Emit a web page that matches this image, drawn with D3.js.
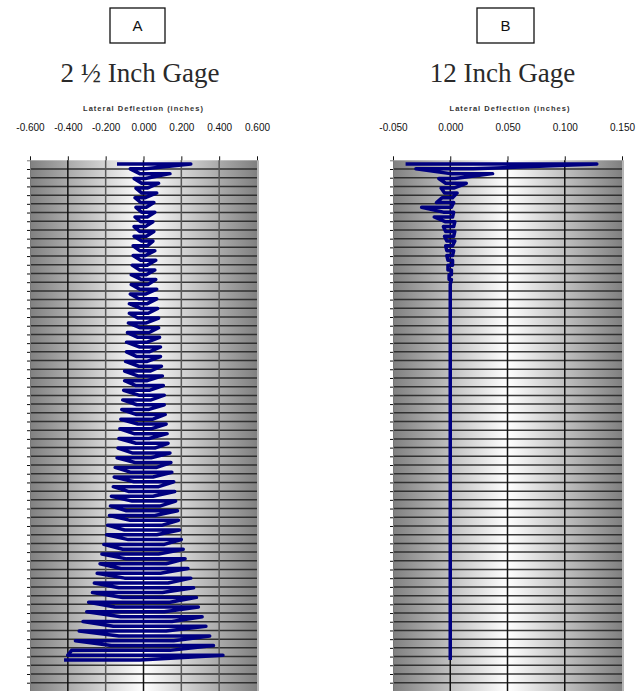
<!DOCTYPE html>
<html>
<head>
<meta charset="utf-8">
<script src="https://cdn.jsdelivr.net/npm/d3@7"></script>
<style>
  html, body { margin: 0; padding: 0; background: #fff; }
  svg { display: block; }
  .tick text { font-family: "Liberation Sans", Arial, sans-serif; }
</style>
</head>
<body>
<svg id="chart" width="642" height="691"></svg>
<script>
// ---------- data ----------
const panelLetters = ["A", "B"];
const panelTitles = ["2 \u00BD Inch Gage", "12 Inch Gage"];
const axisTitle = "Lateral Deflection (inches)";

const aTicks = [-0.6, -0.4, -0.2, 0, 0.2, 0.4, 0.6];
const bTicks = [-0.05, 0, 0.05, 0.1, 0.15];

// horizontal grid rows (depth rows)
const rowLines = d3.range(1, 61);

// Gage A: each sweep of the trace (top to bottom) – left and right extreme deflection
const aLeft = [
  -0.14, -0.07, -0.02, -0.05, -0.01, -0.04, -0.01, -0.045, -0.015, -0.04,
  -0.01, -0.045, -0.015, -0.05, -0.02, -0.05, -0.01, -0.055, -0.02, -0.055,
  -0.015, -0.06, -0.02, -0.065, -0.01, -0.065, -0.02, -0.07, -0.025, -0.075,
  -0.015, -0.075, -0.03, -0.08, -0.02, -0.085, -0.03, -0.09, -0.02, -0.09,
  -0.035, -0.095, -0.025, -0.10, -0.03, -0.10, -0.04, -0.105, -0.025, -0.11,
  -0.035, -0.115, -0.04, -0.12, -0.03, -0.125, -0.05, -0.13, -0.04, -0.135,
  -0.06, -0.14, -0.045, -0.15, -0.07, -0.155, -0.05, -0.16, -0.08, -0.17,
  -0.06, -0.175, -0.09, -0.18, -0.07, -0.19, -0.10, -0.195, -0.08, -0.21,
  -0.11, -0.22, -0.09, -0.23, -0.12, -0.245, -0.10, -0.26, -0.13, -0.27,
  -0.11, -0.29, -0.15, -0.30, -0.12, -0.32, -0.16, -0.34, -0.13, -0.36,
  -0.17, -0.38, -0.40, -0.42
];
const aRight = [
  0.25, 0.01, 0.14, 0.01, 0.08, 0.02, 0.07, 0.01, 0.055, 0.015,
  0.06, 0.02, 0.05, 0.01, 0.055, 0.015, 0.05, 0.02, 0.06, 0.01,
  0.065, 0.02, 0.06, 0.015, 0.065, 0.025, 0.07, 0.01, 0.07, 0.02,
  0.075, 0.025, 0.08, 0.015, 0.08, 0.03, 0.085, 0.02, 0.09, 0.03,
  0.09, 0.02, 0.095, 0.035, 0.10, 0.02, 0.105, 0.03, 0.11, 0.04,
  0.11, 0.025, 0.115, 0.05, 0.12, 0.04, 0.125, 0.03, 0.13, 0.06,
  0.14, 0.04, 0.145, 0.07, 0.15, 0.05, 0.16, 0.08, 0.165, 0.05,
  0.17, 0.09, 0.18, 0.06, 0.185, 0.10, 0.19, 0.07, 0.20, 0.11,
  0.21, 0.08, 0.22, 0.12, 0.235, 0.09, 0.25, 0.13, 0.265, 0.10,
  0.28, 0.14, 0.29, 0.11, 0.31, 0.15, 0.33, 0.12, 0.35, 0.16,
  0.37, 0.14, 0.42, -0.02
];
const aSweep = d3.range(aLeft.length); // sweep number 0..103

// Gage B: sweep numbers and extreme deflections
const bSweep = [
  0, 1, 2, 3, 4, 5, 6, 7, 8, 9,
  10, 11, 12, 13, 14, 15, 16, 17, 18, 19,
  20, 21, 22, 23, 24, 25, 103
];
const bLeft = [
  -0.039, -0.030, 0.000, -0.010, -0.004, -0.008, -0.005, -0.007, -0.012, -0.025,
  -0.006, -0.014, -0.004, -0.006, -0.004, -0.005, -0.003, -0.004, -0.003, -0.003,
  -0.002, -0.002, -0.002, -0.001, -0.001, 0.000, 0.000
];
const bRight = [
  0.128, 0.020, 0.037, 0.004, 0.014, 0.003, 0.006, 0.002, 0.003, 0.001,
  0.003, 0.002, 0.004, 0.003, 0.004, 0.003, 0.004, 0.002, 0.003, 0.002,
  0.002, 0.002, 0.001, 0.001, 0.001, 0.000, 0.000
];

// ---------- layout ----------
const svg = d3.select("#chart");
const plotTop = 160.3, plotBottom = 691.4;

const fmt = v => d3.format(".3f")(v).replace("\u2212", "-");

const panels = [
  {
    letter: panelLetters[0], title: panelTitles[0], ticks: aTicks,
    left: 30, right: 257, domain: [-0.6, 0.6],
    boxX: 110, boxW: 55, titleX: 140, labelX: 143.5,
    darkGrid: [-0.4, 0],
    sweep: aSweep, lo: aLeft, hi: aRight
  },
  {
    letter: panelLetters[1], title: panelTitles[1], ticks: bTicks,
    left: 393, right: 622, domain: [-0.05, 0.15],
    boxX: 477, boxW: 57, titleX: 502.5, labelX: 510,
    darkGrid: [0, 0.05, 0.1],
    sweep: bSweep, lo: bLeft, hi: bRight
  }
];

const yRow = d3.scaleLinear().domain([0, 61]).range([plotTop, plotBottom]);
const ySweep = d3.scaleLinear().domain([0, 103]).range([164, 660]);

const defs = svg.append("defs");

panels.forEach((p, pi) => {
  const x = d3.scaleLinear().domain(p.domain).range([p.left, p.right]);
  const g = svg.append("g");

  // letter box
  g.append("rect")
    .attr("x", p.boxX).attr("y", 8).attr("width", p.boxW).attr("height", 35)
    .attr("fill", "#fff").attr("stroke", "#111").attr("stroke-width", 1.3);
  g.append("text")
    .attr("x", p.boxX + p.boxW / 2).attr("y", 31)
    .attr("text-anchor", "middle")
    .style("font-family", "Liberation Sans, Arial, sans-serif")
    .style("font-size", "15px").attr("fill", "#111")
    .text(p.letter);

  // panel title
  g.append("text")
    .attr("x", p.titleX).attr("y", 82)
    .attr("text-anchor", "middle")
    .style("font-family", "Liberation Serif, 'Times New Roman', serif")
    .style("font-size", "27px").attr("fill", "#2a2a2a")
    .text(p.title);

  // axis title
  g.append("text")
    .attr("x", p.labelX).attr("y", 111)
    .attr("text-anchor", "middle")
    .style("font-family", "Liberation Sans, Arial, sans-serif")
    .style("font-size", "7.5px").style("font-weight", "bold")
    .style("letter-spacing", "1px")
    .attr("fill", "#333")
    .text(axisTitle);

  // gradient background
  const gid = "grad" + pi;
  const grad = defs.append("linearGradient").attr("id", gid)
    .attr("x1", "0%").attr("x2", "100%").attr("y1", "0%").attr("y2", "0%");
  grad.append("stop").attr("offset", "0%").attr("stop-color", "#808080");
  grad.append("stop").attr("offset", "50%").attr("stop-color", "#ffffff");
  grad.append("stop").attr("offset", "100%").attr("stop-color", "#808080");

  g.append("rect")
    .attr("x", p.left).attr("y", plotTop)
    .attr("width", p.right - p.left).attr("height", plotBottom - plotTop)
    .attr("fill", `url(#${gid})`);

  // horizontal grid lines
  g.append("g").selectAll("line").data(rowLines).join("line")
    .attr("x1", p.left).attr("x2", p.right)
    .attr("y1", d => yRow(d)).attr("y2", d => yRow(d))
    .attr("stroke", "#262626").attr("stroke-width", 1.5).attr("opacity", 0.9);

  // vertical grid lines
  const inner = p.ticks.filter(t => t > p.domain[0] + 1e-9 && t < p.domain[1] - 1e-9);
  g.append("g").selectAll("line").data(inner).join("line")
    .attr("x1", d => x(d)).attr("x2", d => x(d))
    .attr("y1", plotTop).attr("y2", plotBottom)
    .attr("stroke", d => p.darkGrid.some(v => Math.abs(v - d) < 1e-9) ? "#111" : "#5a5a5a")
    .attr("stroke-width", 1.5);

  // right border
  g.append("line")
    .attr("x1", p.right + 1).attr("x2", p.right + 1)
    .attr("y1", plotTop).attr("y2", plotBottom)
    .attr("stroke", "#b5b5b5").attr("stroke-width", 2);

  // top axis
  const xAxis = d3.axisTop(x).tickValues(p.ticks).tickFormat(fmt)
    .tickSize(4).tickPadding(25);
  const ax = g.append("g").attr("transform", `translate(0,${plotTop})`).call(xAxis);
  ax.select(".domain").remove();
  ax.selectAll(".tick line").attr("stroke", "#111");
  ax.selectAll(".tick text").style("font-size", "10px").attr("fill", "#111");

  // left axis ticks
  const yAxis = d3.axisLeft(yRow).tickValues(rowLines).tickFormat("").tickSize(3);
  const ay = g.append("g").attr("transform", `translate(${p.left},0)`).call(yAxis);
  ay.select(".domain").attr("stroke", "#777");
  ay.selectAll(".tick line").attr("stroke", "#111");

  // trace: serpentine sweeps, alternating direction
  const pts = [];
  p.sweep.forEach((s, i) => {
    const y = ySweep(s);
    const a = [x(p.lo[i]), y], b = [x(p.hi[i]), y];
    if (i % 2 === 0) { pts.push(a, b); } else { pts.push(b, a); }
  });
  g.append("path")
    .attr("d", d3.line()(pts))
    .attr("fill", "none")
    .attr("stroke", "#000080")
    .attr("stroke-width", 3.5)
    .attr("stroke-linejoin", "round")
    .attr("stroke-linecap", "butt");
});
</script>
</body>
</html>
